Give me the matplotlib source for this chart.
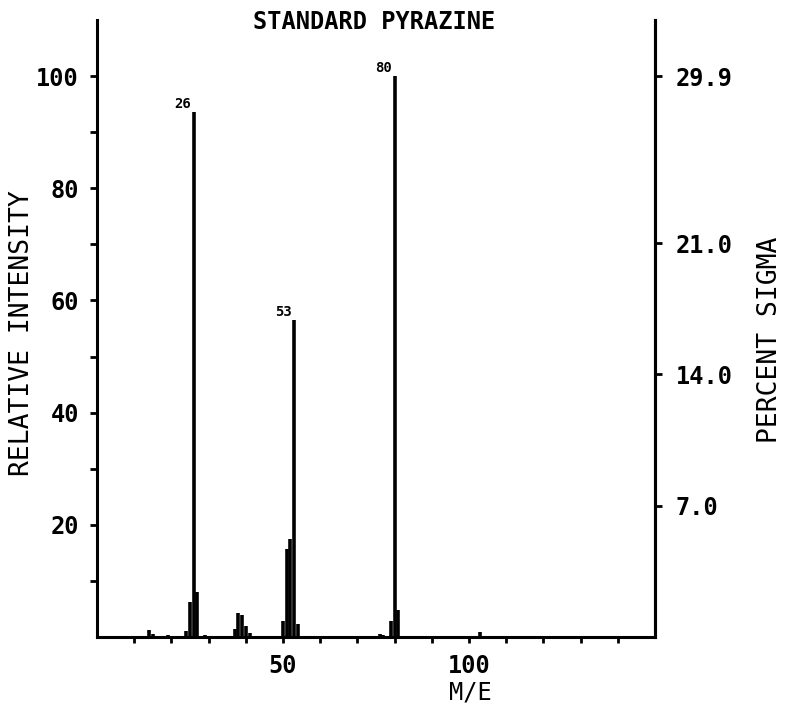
import matplotlib
matplotlib.use("Agg")
import matplotlib.pyplot as plt

# Data: mass/charge and relative intensity
mz = [14, 15, 19, 24, 25, 26, 27, 29, 37, 38, 39, 40, 41,
      50, 51, 52, 53, 54, 76, 77, 79, 80, 81, 103]
intensity = [1.2, 0.5, 0.4, 1.1, 6.3, 93.6, 8.0, 0.3, 1.5, 4.3, 3.9, 2.0, 0.8,
             2.8, 15.6, 17.4, 56.5, 2.4, 0.5, 0.4, 2.8, 100.0, 4.8, 0.9]
labeled_peaks = [26, 53, 80]
x_ticks = list(range(10, 150, 10))
x_labels = {50: "50", 100: "100"}
y_ticks = list(range(10, 110, 10))
y_labels = {20: "20", 40: "40", 60: "60", 80: "80", 100: "100"}
sigma_ticks = [7.0, 14.0, 21.0, 29.9]
sigma_scale = 0.299

FONT = "DejaVu Sans Mono"
W, H = 786, 714

fig = plt.figure(figsize=(7.86, 7.14), dpi=100)
ax = fig.add_axes([97/W, 77/H, (655-97)/W, (637-20)/H])

ax.vlines(mz, 0, intensity, colors="black", linewidth=2.6)
for m, v in zip(mz, intensity):
    if m in labeled_peaks:
        ax.text(m - 0.7, v + 0.2, str(m), ha="right", va="bottom",
                fontsize=10, family=FONT, fontweight="bold")

ax.set_xlim(0, 150)
ax.set_ylim(0, 110)
ax.spines["top"].set_visible(False)
for s in ["left", "bottom", "right"]:
    ax.spines[s].set_linewidth(2.2)

ax.set_xticks(x_ticks)
ax.set_xticklabels([x_labels.get(t, "") for t in x_ticks],
                   family=FONT, fontsize=17, fontweight="bold")
ax.set_yticks(y_ticks)
ax.set_yticklabels([y_labels.get(t, "") for t in y_ticks],
                   family=FONT, fontsize=17, fontweight="bold")
ax.tick_params(axis="x", direction="out", length=4, width=2, pad=8)
ax.tick_params(axis="y", direction="out", length=5, width=2, pad=8)

ax2 = ax.twinx()
ax2.set_ylim(0, 110 * sigma_scale)
ax2.set_yticks(sigma_ticks)
ax2.set_yticklabels([f"{t:.1f}" for t in sigma_ticks],
                    family=FONT, fontsize=17, fontweight="bold")
ax2.tick_params(axis="y", direction="out", length=5, width=2, pad=10)
ax2.spines["top"].set_visible(False)
ax2.spines["right"].set_linewidth(2.2)

fig.text(374/W, 1 - 22/H, "STANDARD PYRAZINE", ha="center", va="center",
         family=FONT, fontsize=17, fontweight="bold")
fig.text(470/W, 1 - 692/H, "M/E", ha="center", va="center",
         family=FONT, fontsize=17)
fig.text(22/W, 1 - 333/H, "RELATIVE INTENSITY", ha="center", va="center",
         rotation=90, family=FONT, fontsize=19)
fig.text(770/W, 1 - 340/H, "PERCENT SIGMA", ha="center", va="center",
         rotation=90, family=FONT, fontsize=19)

fig.savefig("out.png", dpi=100)
